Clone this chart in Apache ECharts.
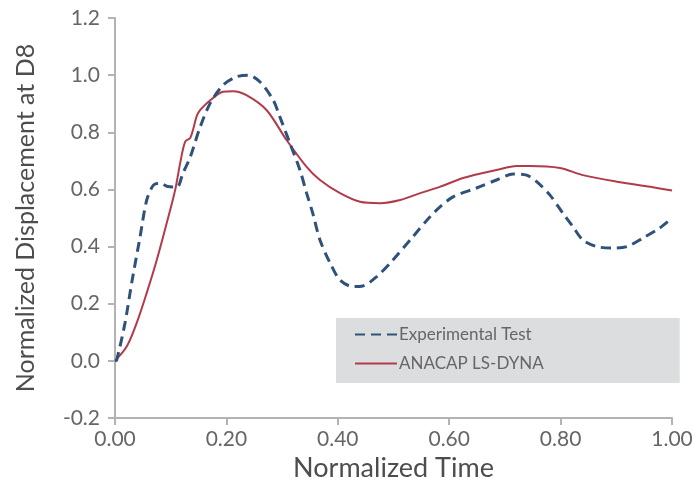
<!DOCTYPE html>
<html>
<head>
<meta charset="utf-8">
<script src="https://cdn.jsdelivr.net/npm/echarts@6/dist/echarts.min.js"></script>
<style>
  html, body { margin: 0; padding: 0; background: #fff; }
  #chart { width: 694px; height: 487px; }
</style>
</head>
<body>
<div id="chart"></div>
<script>
// 试验曲线 (虚线)
var expTime = [0, 0.003, 0.018, 0.030, 0.045, 0.057, 0.069, 0.081, 0.095, 0.111, 0.122, 0.135, 0.153, 0.171, 0.194, 0.218, 0.239, 0.260, 0.284, 0.296, 0.314, 0.332, 0.344, 0.355, 0.368, 0.386, 0.404, 0.427, 0.445, 0.470, 0.499, 0.535, 0.566, 0.583, 0.607, 0.649, 0.685, 0.715, 0.739, 0.757, 0.781, 0.804, 0.822, 0.840, 0.865, 0.892, 0.919, 0.948, 0.978, 1.0];
var expDisp = [0, 0.003, 0.133, 0.273, 0.434, 0.563, 0.615, 0.622, 0.610, 0.608, 0.657, 0.713, 0.819, 0.902, 0.965, 0.994, 1.0, 0.977, 0.913, 0.854, 0.762, 0.668, 0.587, 0.517, 0.423, 0.343, 0.283, 0.260, 0.262, 0.295, 0.353, 0.435, 0.505, 0.538, 0.574, 0.605, 0.633, 0.654, 0.650, 0.627, 0.580, 0.517, 0.470, 0.423, 0.400, 0.395, 0.400, 0.430, 0.465, 0.50];

// 仿真曲线 (实线)
var simTime = [0, 0.021, 0.039, 0.057, 0.075, 0.093, 0.108, 0.117, 0.126, 0.135, 0.140, 0.149, 0.171, 0.194, 0.212, 0.236, 0.272, 0.308, 0.344, 0.368, 0.404, 0.440, 0.476, 0.512, 0.548, 0.583, 0.625, 0.685, 0.721, 0.745, 0.799, 0.840, 0.901, 0.961, 1.0];
var simDisp = [0, 0.050, 0.133, 0.238, 0.353, 0.483, 0.598, 0.692, 0.767, 0.780, 0.808, 0.867, 0.912, 0.942, 0.944, 0.930, 0.878, 0.773, 0.679, 0.633, 0.587, 0.557, 0.552, 0.563, 0.587, 0.609, 0.640, 0.668, 0.682, 0.682, 0.675, 0.650, 0.627, 0.609, 0.596];

var seriesNames = ['Experimental Test', 'ANACAP LS-DYNA'];
var xTicks = [0, 0.2, 0.4, 0.6, 0.8, 1.0];
var yTicks = [-0.2, 0, 0.2, 0.4, 0.6, 0.8, 1.0, 1.2];

function toPairs(xs, ys) {
  return xs.map(function (x, i) { return [x, ys[i]]; });
}

var axisGray = '#b3b3b3';
var textGray = '#666';
var titleGray = '#4d4d4d';
var fontFam = 'Lato, "Open Sans", sans-serif';

var myChart = echarts.init(document.getElementById('chart'));

var option = {
  backgroundColor: '#fff',
  animation: false,
  grid: {
    left: 115,
    right: 22,
    top: 18,
    bottom: 69,
    containLabel: false,
    outerBoundsMode: 'none'  // v6 默认会收缩网格，这里关掉
  },
  legend: {
    left: 336,
    top: 318,
    orient: 'vertical',
    backgroundColor: '#dcdddf',
    padding: [8, 136, 11, 18],
    itemWidth: 42,
    itemHeight: 14,
    itemGap: 12,
    itemStyle: { opacity: 0 },
    textStyle: {
      fontFamily: fontFam,
      fontSize: 17,
      color: textGray,
      padding: [0, 0, 0, -3]
    },
    data: seriesNames
  },
  xAxis: {
    type: 'value',
    min: xTicks[0],
    max: xTicks[xTicks.length - 1],
    interval: 0.2,
    name: 'Normalized Time',
    nameLocation: 'middle',
    nameGap: 37,
    nameTextStyle: { fontFamily: fontFam, fontSize: 27, color: titleGray },
    axisLine: { show: true, onZero: false, lineStyle: { color: axisGray, width: 2 } },
    axisTick: { show: true, length: 7, lineStyle: { color: axisGray, width: 2 } },
    axisLabel: {
      margin: 11,
      fontFamily: fontFam,
      fontSize: 21,
      color: textGray,
      formatter: function (v) { return v.toFixed(2); }
    },
    splitLine: { show: false }
  },
  yAxis: {
    type: 'value',
    min: yTicks[0],
    max: yTicks[yTicks.length - 1],
    interval: 0.2,
    name: 'Normalized Displacement at D8',
    nameLocation: 'middle',
    nameGap: 77,
    nameTextStyle: { fontFamily: fontFam, fontSize: 25, color: titleGray },
    axisLine: { show: true, onZero: false, lineStyle: { color: axisGray, width: 2 } },
    axisTick: { show: true, length: 7, lineStyle: { color: axisGray, width: 2 } },
    axisLabel: {
      margin: 15,
      fontFamily: fontFam,
      fontSize: 21,
      color: textGray,
      formatter: function (v) { return v.toFixed(1); }
    },
    splitLine: { show: false }
  },
  series: [
    {
      name: seriesNames[0],
      type: 'line',
      smooth: 0.3,
      symbol: 'none',
      lineStyle: { color: '#2f527a', width: 3, type: [10, 6] },
      itemStyle: { color: '#2f527a' },
      data: toPairs(expTime, expDisp),
      z: 3
    },
    {
      name: seriesNames[1],
      type: 'line',
      smooth: 0.3,
      symbol: 'none',
      lineStyle: { color: '#b23a4a', width: 2 },
      itemStyle: { color: '#b23a4a' },
      data: toPairs(simTime, simDisp),
      z: 2
    }
  ]
};

myChart.setOption(option);
</script>
</body>
</html>
